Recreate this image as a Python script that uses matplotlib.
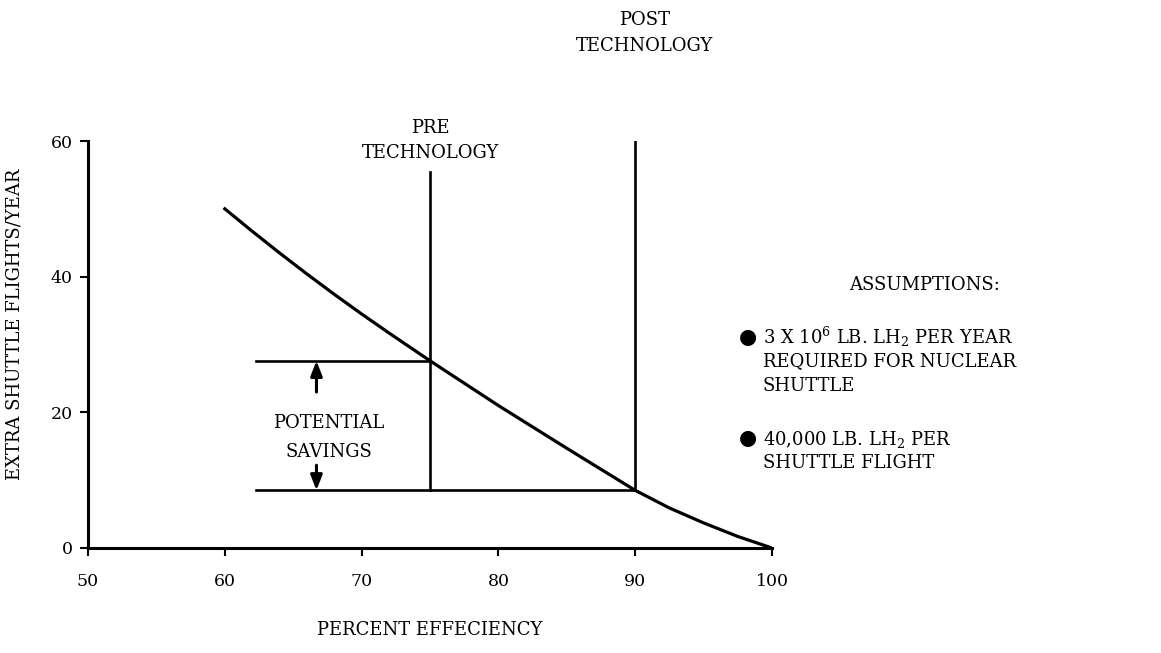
import matplotlib
matplotlib.use("Agg")
import matplotlib.pyplot as plt

plt.rcParams['font.family'] = ['DejaVu Serif']
plt.rcParams['mathtext.fontset'] = 'dejavuserif'

# extra shuttle flights needed vs. liquefaction efficiency
eff = [60, 62, 64, 66, 68, 70, 72, 75, 80, 85, 90, 92.5, 95, 97.5, 100]
flights = [50, 46.7, 43.5, 40.4, 37.4, 34.5, 31.7, 27.6, 21.0, 14.7, 8.5, 5.9, 3.7, 1.7, 0]

pre_eff, pre_flights, pre_top = 75, 27.6, 55.4
post_eff, post_flights, post_top = 90, 8.5, 60
savings_start = 62.3
arrow_x = 66.7

xticks = [50, 60, 70, 80, 90, 100]
yticks = [0, 20, 40, 60]

W, H = 1161, 653
fig = plt.figure(figsize=(W / 100, H / 100), dpi=100)
ax = fig.add_axes([88 / W, 1 - 548 / H, (772 - 88) / W, (548 - 141) / H])

ax.plot(eff, flights, color='black', lw=2.3, solid_joinstyle='round')

# technology levels
ax.plot([pre_eff, pre_eff], [post_flights, pre_top], color='black', lw=1.9)
ax.plot([post_eff, post_eff], [post_flights, post_top], color='black', lw=1.9)
ax.plot([savings_start, pre_eff], [pre_flights, pre_flights], color='black', lw=1.9)
ax.plot([savings_start, post_eff], [post_flights, post_flights], color='black', lw=1.9)

arrow = dict(arrowstyle='-|>,head_length=0.9,head_width=0.35', color='black', lw=2.2,
             shrinkA=0, shrinkB=0)
ax.annotate('', xy=(arrow_x, pre_flights), xytext=(arrow_x, 23.0), arrowprops=arrow)
ax.annotate('', xy=(arrow_x, post_flights), xytext=(arrow_x, 12.2), arrowprops=arrow)
ax.text(67.6, 18.4, 'POTENTIAL', ha='center', va='center', fontsize=13)
ax.text(67.6, 14.1, 'SAVINGS', ha='center', va='center', fontsize=13)

ax.set_xlim(50, 100)
ax.set_ylim(0, 60)
ax.set_xticks(xticks)
ax.set_yticks(yticks)
ax.tick_params(length=6, width=1.5, labelsize=12.5, direction='out')
ax.tick_params(axis='x', pad=12)
ax.tick_params(axis='y', pad=5)
for side in ['top', 'right']:
    ax.spines[side].set_visible(False)
for side in ['left', 'bottom']:
    ax.spines[side].set_linewidth(2.2)

def ftext(px, py, s, **kw):
    kw.setdefault('fontsize', 13)
    fig.text(px / W, 1 - py / H, s, **kw)

ftext(430, 128, 'PRE', ha='center', va='center')
ftext(430, 153, 'TECHNOLOGY', ha='center', va='center')
ftext(645, 20, 'POST', ha='center', va='center')
ftext(645, 46, 'TECHNOLOGY', ha='center', va='center')

ftext(15, 324, 'EXTRA SHUTTLE FLIGHTS/YEAR', rotation=90, ha='center', va='center')
ftext(430, 630, 'PERCENT EFFECIENCY', ha='center', va='center')

ftext(925, 285, 'ASSUMPTIONS:', ha='center', va='center')
ftext(748, 337, '●', ha='center', va='center', fontsize=15, family=['DejaVu Sans'])
ftext(763, 337, r'3 X 10$^6$ LB. LH$_2$ PER YEAR', ha='left', va='center')
ftext(763, 361, 'REQUIRED FOR NUCLEAR', ha='left', va='center')
ftext(763, 386, 'SHUTTLE', ha='left', va='center')
ftext(748, 438, '●', ha='center', va='center', fontsize=15, family=['DejaVu Sans'])
ftext(763, 440, r'40,000 LB. LH$_2$ PER', ha='left', va='center')
ftext(763, 463, 'SHUTTLE FLIGHT', ha='left', va='center')

fig.savefig('out.png', dpi=100)
